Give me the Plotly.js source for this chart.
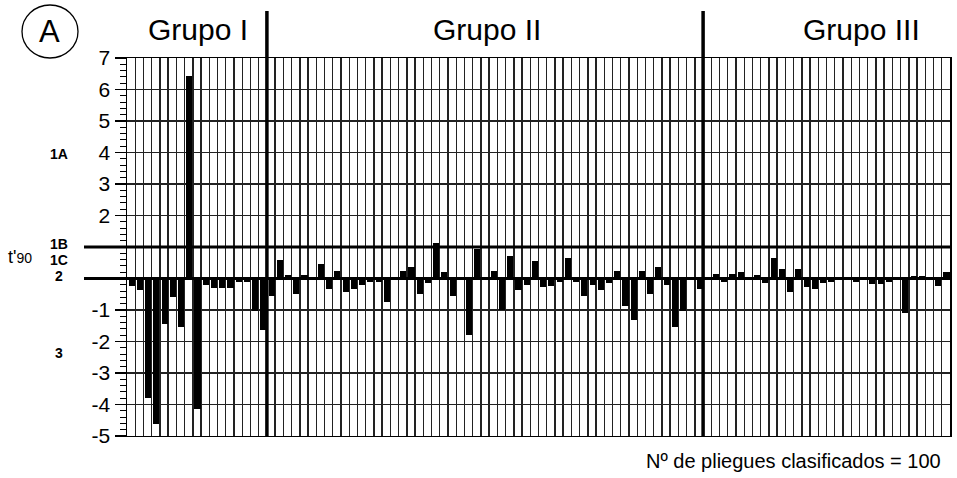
<!DOCTYPE html>
<html>
<head>
<meta charset="utf-8">
<script src="https://cdn.plot.ly/plotly-3.0.1.min.js"></script>
<style>html,body{margin:0;padding:0;background:#fff;}#chart{width:957px;height:478px;}</style>
</head>
<body>
<div id="chart"></div>
<script>
// ---- data ----
const foldIndex = Array.from({length: 100}, (_, i) => i);
const tValues = [
  -0.25, -0.37, -3.78, -4.62, -1.43, -0.60, -1.54, 6.43, -4.13, -0.20,
  -0.30, -0.30, -0.30, -0.10, -0.10, -1.04, -1.64, -0.55, 0.59, 0.10,
  -0.48, 0.10, 0.00, 0.46, -0.33, 0.25, -0.44, -0.33, -0.20, -0.10,
  -0.10, -0.76, 0.00, 0.25, 0.38, -0.48, -0.15, 1.14, 0.20, -0.54,
  0.00, -1.80, 0.94, 0.00, 0.25, -1.01, 0.70, -0.38, -0.22, 0.57,
  -0.27, -0.25, -0.10, 0.64, -0.10, -0.54, -0.20, -0.38, -0.15, 0.25,
  -0.88, -1.33, 0.25, -0.48, 0.36, -0.22, -1.54, -1.04, 0.00, -0.33,
  0.00, 0.14, -0.10, 0.14, 0.20, 0.00, 0.10, -0.15, 0.64, 0.31,
  -0.44, 0.31, -0.27, -0.33, -0.15, -0.10, 0.00, 0.00, -0.10, 0.00,
  -0.17, -0.17, -0.10, 0.00, -1.10, 0.08, 0.08, 0.00, -0.25, 0.20
];
const groupNames = ["Grupo I", "Grupo II", "Grupo III"];
const groupSizes = [17, 53, 30];
const yTickVals = [7, 6, 5, 4, 3, 2, -1, -2, -3, -4, -5];
const yTickText = ["7", "6", "5", "4", "3", "2", "-1", "-2", "-3", "-4", "-5"];
const classLabels = ["1A", "1B", "1C", "2", "3"];
const classLabelPx = [154, 244, 260, 276, 353];
const thresholdLines = [0, 1];
const totalText = "Nº de pliegues clasificados = 100";

// ---- geometry helpers (pixel -> paper) ----
const L = 127, R = 950, T = 58, B = 436;
const px = x => (x - L) / (R - L);
const py = y => (B - y) / (B - T);
const FONT = 'Liberation Sans, Arial, Helvetica, sans-serif';

const boundaries = Array.from({length: foldIndex.length + 1}, (_, i) => i - 0.5);

const shapes = [];
thresholdLines.forEach(v => shapes.push({
  type: 'line', xref: 'paper', yref: 'y', x0: px(84), x1: 1, y0: v, y1: v,
  line: {color: '#000', width: 3}, layer: 'above'
}));
let cum = 0;
groupSizes.slice(0, -1).forEach(s => {
  cum += s;
  shapes.push({type: 'line', xref: 'x', yref: 'paper', x0: cum - 0.5, x1: cum - 0.5,
    y0: 0, y1: py(11), line: {color: '#000', width: 3.5}, layer: 'above'});
});
shapes.push({type: 'circle', xref: 'paper', yref: 'paper',
  x0: px(22), x1: px(78), y0: py(58), y1: py(5), line: {color: '#000', width: 1.3}});

const annotations = [];
const groupLabelX = [8.1, 43.2, 88.8];
groupNames.forEach((g, i) => annotations.push({
  text: g, xref: 'x', yref: 'paper', x: groupLabelX[i], y: py(30),
  showarrow: false, xanchor: 'center', yanchor: 'middle',
  font: {family: FONT, size: 30, color: '#000'}
}));
classLabels.forEach((c, i) => annotations.push({
  text: '<b>' + c + '</b>', xref: 'paper', yref: 'paper', x: px(59), y: py(classLabelPx[i]),
  showarrow: false, xanchor: 'center', yanchor: 'middle', borderpad: 0,
  font: {family: FONT, size: 14, color: '#000'}
}));
annotations.push({
  text: "t'<span style='font-size:14px'>90</span>", xref: 'paper', yref: 'paper',
  x: px(20), y: py(257), showarrow: false, xanchor: 'center', yanchor: 'middle',
  font: {family: FONT, size: 18, color: '#000'}
});
annotations.push({
  text: 'A', xref: 'paper', yref: 'paper', x: px(49), y: py(32),
  showarrow: false, xanchor: 'center', yanchor: 'middle',
  font: {family: FONT, size: 31, color: '#000'}
});
annotations.push({
  text: totalText, xref: 'paper', yref: 'paper', x: px(943), y: py(461),
  showarrow: false, xanchor: 'right', yanchor: 'middle',
  font: {family: FONT, size: 20, color: '#000'}
});

const trace = {
  type: 'bar', x: foldIndex, y: tValues,
  width: 0.74, offset: -0.3,
  marker: {color: '#000', line: {width: 0}},
  hoverinfo: 'x+y'
};

const layout = {
  width: 957, height: 478,
  margin: {l: L, r: 957 - R, t: T, b: 478 - B, pad: 0},
  paper_bgcolor: '#fff', plot_bgcolor: '#fff',
  showlegend: false, bargap: 0,
  xaxis: {
    range: [-0.5, foldIndex.length - 0.5], tickmode: 'array', tickvals: boundaries,
    showticklabels: false, ticks: '', showgrid: true, gridcolor: '#222', gridwidth: 1.4,
    zeroline: false, showline: true, linecolor: '#000', linewidth: 1.3, mirror: true
  },
  yaxis: {
    range: [-5, 7], tickmode: 'array', tickvals: yTickVals, ticktext: yTickText,
    ticks: 'outside', ticklen: 11, tickwidth: 1.2, tickcolor: '#000',
    tickfont: {family: FONT, size: 21, color: '#000'},
    showgrid: true, gridcolor: '#222', gridwidth: 1.2, zeroline: false,
    showline: true, linecolor: '#000', linewidth: 1.5, mirror: true,
    minor: {tickmode: 'linear', tick0: 0, dtick: 0.2, ticks: 'outside', ticklen: 6,
            tickwidth: 1, tickcolor: '#000', showgrid: false}
  },
  shapes: shapes,
  annotations: annotations
};

Plotly.newPlot('chart', [trace], layout, {displayModeBar: false, staticPlot: true});
</script>
</body>
</html>
